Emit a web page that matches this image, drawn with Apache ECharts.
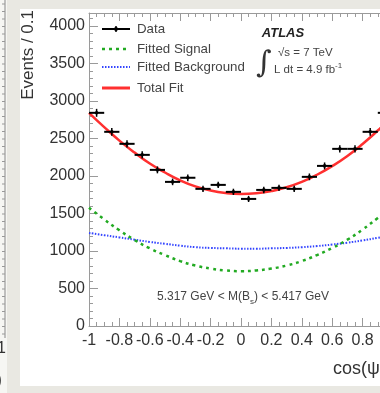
<!DOCTYPE html>
<html>
<head>
<meta charset="utf-8">
<script src="https://cdn.jsdelivr.net/npm/echarts@6/dist/echarts.min.js"></script>
<style>
  html,body{margin:0;padding:0;width:380px;height:393px;overflow:hidden;background:#e9e8e2;}
  #panel{position:absolute;left:20px;top:9px;width:360px;height:377px;background:#ffffff;}
  #strip{position:absolute;left:0;top:0;width:7px;height:393px;background:#f6f6f3;}
  #chart{position:absolute;left:0;top:0;width:380px;height:393px;}
</style>
</head>
<body>
<div id="strip"></div>
<div id="panel"></div>
<div id="chart"></div>
<script>
// ---- data ----
const binCenters = [-0.95,-0.85,-0.75,-0.65,-0.55,-0.45,-0.35,-0.25,-0.15,-0.05,0.05,0.15,0.25,0.35,0.45,0.55,0.65,0.75,0.85,0.95];
const eventCounts = [2840,2587,2427,2280,2080,1920,1975,1827,1880,1787,1693,1813,1840,1827,1987,2133,2360,2360,2587,2840];
const eventErrors = [53,51,49,48,46,44,45,43,43,42,41,43,43,43,45,46,49,49,51,53];
const fitX = [-1,-0.9,-0.8,-0.7,-0.6,-0.5,-0.4,-0.3,-0.2,-0.1,0,0.1,0.2,0.3,0.4,0.5,0.6,0.7,0.8,0.9,1];
const fittedSignal = [1575,1420,1275,1145,1035,945,865,805,765,740,730,740,765,805,865,945,1040,1150,1285,1440,1600];
const fittedBackground = [1240,1210,1180,1150,1120,1095,1070,1050,1040,1035,1030,1030,1035,1040,1050,1065,1085,1110,1140,1175,1210];
const totalFit = [2840,2650,2470,2310,2165,2045,1940,1860,1805,1772,1760,1768,1798,1848,1920,2015,2130,2265,2425,2605,2800];
const legendNames = ['Data','Fitted Signal','Fitted Background','Total Fit'];
const yTitle = 'Events / 0.1';

const pairs = (xs, ys) => xs.map((x, i) => [x, ys[i]]);
const FONT = 'Liberation Sans, Arial, sans-serif';
const axisGrey = '#9a9a9a';

const chart = echarts.init(document.getElementById('chart'), null, {renderer: 'canvas'});

const baseX = {
  type: 'value', min: -1, max: 1, interval: 0.2,
  axisLine: {show: true, onZero: false, lineStyle: {color: axisGrey, width: 1}},
  axisTick: {show: true, inside: true, length: 8, lineStyle: {color: axisGrey}},
  minorTick: {show: true, splitNumber: 4, length: 4, lineStyle: {color: axisGrey}},
  splitLine: {show: false}
};
const baseY = {
  type: 'value', min: 0, max: 4170, interval: 500,
  axisLine: {show: true, onZero: false, lineStyle: {color: axisGrey, width: 1}},
  axisTick: {show: true, inside: true, length: 9, lineStyle: {color: axisGrey}},
  minorTick: {show: true, splitNumber: 5, length: 4, lineStyle: {color: axisGrey}},
  splitLine: {show: false}
};

// left strip (edge of neighbouring plot)
const stripEls = [{type: 'line', shape: {x1: 5, y1: 0, x2: 5, y2: 338}, style: {stroke: '#888', lineWidth: 1}}];
for (let y = 4; y < 338; y += 7.5) {
  stripEls.push({type: 'line', shape: {x1: 2, y1: y, x2: 5, y2: y}, style: {stroke: '#999', lineWidth: 1}});
}
stripEls.push({type: 'text', x: -3, y: 349, style: {text: '1', fontSize: 16, fontFamily: FONT, fill: '#333', verticalAlign: 'middle'}});
stripEls.push({type: 'text', x: -4, y: 380, style: {text: ')', fontSize: 18, fontFamily: FONT, fill: '#333', verticalAlign: 'middle'}});

const legendY = [29, 49, 67, 88];
const legendEls = [
  {type: 'line', shape: {x1: 102, y1: legendY[0], x2: 130, y2: legendY[0]}, style: {stroke: '#000', lineWidth: 2}},
  {type: 'line', shape: {x1: 116, y1: legendY[0] - 3, x2: 116, y2: legendY[0] + 3}, style: {stroke: '#000', lineWidth: 1.5}},
  {type: 'circle', shape: {cx: 116, cy: legendY[0], r: 2}, style: {fill: '#000'}},
  {type: 'line', shape: {x1: 102, y1: legendY[1], x2: 130, y2: legendY[1]}, style: {stroke: '#22aa22', lineWidth: 2.5, lineDash: [3, 4]}},
  {type: 'line', shape: {x1: 102, y1: legendY[2], x2: 130, y2: legendY[2]}, style: {stroke: '#3344ff', lineWidth: 2, lineDash: [1.5, 1.5]}},
  {type: 'line', shape: {x1: 102, y1: legendY[3], x2: 130, y2: legendY[3]}, style: {stroke: '#ff3030', lineWidth: 3}}
];
legendNames.forEach((n, i) => legendEls.push({
  type: 'text', x: 137, y: legendY[i],
  style: {text: n, fontSize: 13.3, fontFamily: FONT, fill: '#444', verticalAlign: 'middle'}
}));

const textEls = [
  {type: 'text', x: 283, y: 33, style: {text: 'ATLAS', fontSize: 13, fontWeight: 'bold', fontStyle: 'italic', fontFamily: FONT, fill: '#222', align: 'center', verticalAlign: 'middle'}},
  {type: 'text', x: 264, y: 64, style: {text: '∫', fontSize: 30, fontFamily: 'DejaVu Serif, serif', fill: '#333', align: 'center', verticalAlign: 'middle'}},
  {type: 'text', x: 278, y: 53, style: {text: '√s = 7 TeV', fontSize: 11.5, fontFamily: FONT, fill: '#444', verticalAlign: 'middle'}},
  {type: 'text', x: 274, y: 70, style: {
    text: 'L dt = 4.9 fb{sup|-1}', fontSize: 11.5, fontFamily: FONT, fill: '#444', verticalAlign: 'middle',
    rich: {sup: {fontSize: 8, fontFamily: FONT, fill: '#444', verticalAlign: 'top', padding: [0, 0, 8, 0]}}
  }},
  {type: 'text', x: 243, y: 297, style: {
    text: '5.317 GeV < M(B{sub|s}) < 5.417 GeV', fontSize: 12, fontFamily: FONT, fill: '#444', align: 'center', verticalAlign: 'middle',
    rich: {sub: {fontSize: 8, fontFamily: FONT, fill: '#444', padding: [10, 0, 0, 0]}}
  }},
  {type: 'text', x: 28, y: 10, rotation: Math.PI / 2, style: {text: yTitle, fontSize: 17, fontFamily: FONT, fill: '#333', align: 'right', verticalAlign: 'middle'}},
  {type: 'text', x: 333, y: 369, style: {
    text: 'cos(ψ{sub|T})', fontSize: 18, fontFamily: FONT, fill: '#333', verticalAlign: 'middle',
    rich: {sub: {fontSize: 12, fontFamily: FONT, fill: '#333', padding: [10, 0, 0, 0]}}
  }}
];

chart.setOption({
  animation: false,
  backgroundColor: 'transparent',
  grid: {left: 89, top: 13, right: -13, bottom: 67, outerBoundsMode: 'none', containLabel: false},
  xAxis: [
    Object.assign({}, baseX, {position: 'bottom',
      axisLabel: {color: '#333', fontSize: 16, fontFamily: FONT, margin: 7,
        formatter: v => String(Number(v.toFixed(1)))}}),
    Object.assign({}, baseX, {position: 'top', axisLabel: {show: false}})
  ],
  yAxis: [
    Object.assign({}, baseY, {position: 'left',
      axisLabel: {color: '#333', fontSize: 16, fontFamily: FONT, margin: 4, showMaxLabel: false,
        formatter: v => String(Math.round(v))}}),
    Object.assign({}, baseY, {position: 'right', axisLabel: {show: false}})
  ],
  graphic: {elements: [].concat(stripEls, legendEls, textEls)},
  series: [
    {name: 'Fitted Background', type: 'line', smooth: true, showSymbol: false, z: 3,
      data: pairs(fitX, fittedBackground), lineStyle: {color: '#3344ff', width: 2, type: [1.5, 1.5]}},
    {name: 'Fitted Signal', type: 'line', smooth: true, showSymbol: false, z: 3,
      data: pairs(fitX, fittedSignal), lineStyle: {color: '#22aa22', width: 2.5, type: [3, 4]}},
    {name: 'Total Fit', type: 'line', smooth: true, showSymbol: false, z: 4,
      data: pairs(fitX, totalFit), lineStyle: {color: '#ff3030', width: 2.5}},
    {name: 'Data', type: 'custom', z: 5,
      data: binCenters.map((x, i) => [x, eventCounts[i], eventErrors[i]]),
      renderItem: function (params, api) {
        const x = api.value(0), y = api.value(1), e = api.value(2);
        const l = api.coord([x - 0.05, y]), r = api.coord([x + 0.05, y]);
        const t = api.coord([x, y + e]), b = api.coord([x, y - e]);
        const c = api.coord([x, y]);
        return {type: 'group', children: [
          {type: 'line', shape: {x1: l[0], y1: l[1], x2: r[0], y2: r[1]}, style: {stroke: '#000', lineWidth: 2}},
          {type: 'line', shape: {x1: t[0], y1: t[1], x2: b[0], y2: b[1]}, style: {stroke: '#000', lineWidth: 1.5}},
          {type: 'circle', shape: {cx: c[0], cy: c[1], r: 1.8}, style: {fill: '#000'}}
        ]};
      }}
  ]
});
</script>
</body>
</html>
